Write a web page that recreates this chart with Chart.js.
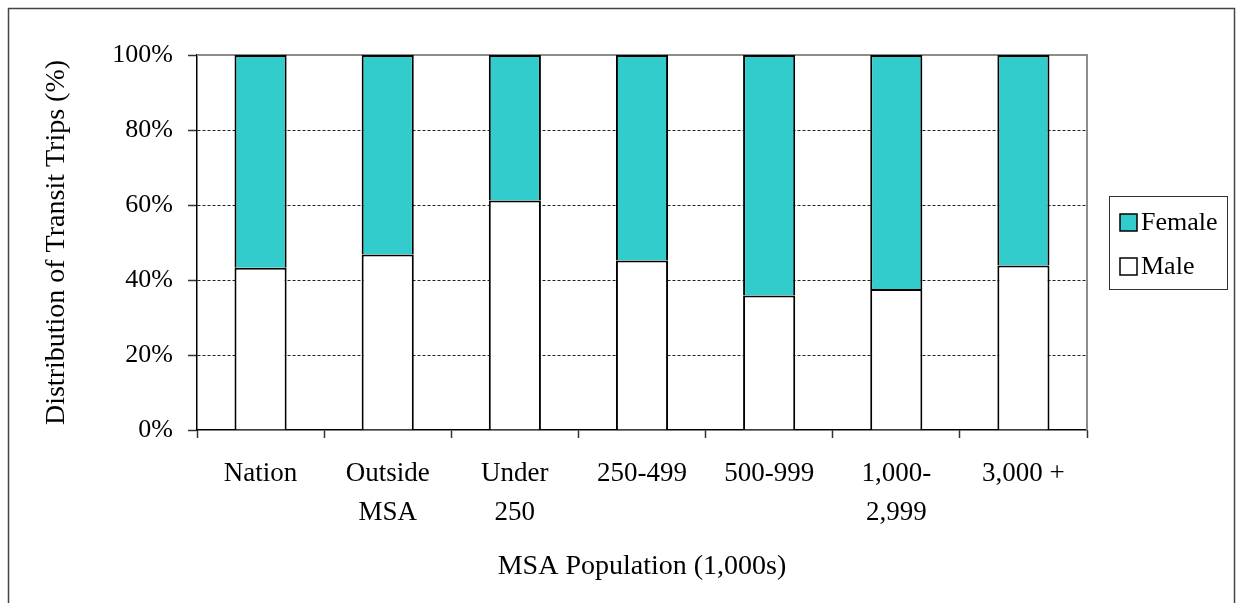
<!DOCTYPE html>
<html>
<head>
<meta charset="utf-8">
<title>Transit trips by gender and MSA size</title>
<script src="https://cdn.jsdelivr.net/npm/chart.js@4/dist/chart.umd.min.js"></script>
<style>
  html, body { margin: 0; padding: 0; background: #fff; }
  canvas { display: block; }
</style>
</head>
<body>
<canvas id="genderChart" width="1236" height="603"></canvas>
<script>
// categories (MSA population groups)
const categories = [
  'Nation',
  ['Outside', 'MSA'],
  ['Under', '250'],
  '250-499',
  '500-999',
  ['1,000-', '2,999'],
  '3,000 +'
];

// share of transit trips (%)
const maleShare   = [43.3, 46.8, 61.2, 45.2, 35.9, 37.6, 43.9];
const femaleShare = [56.7, 53.2, 38.8, 54.8, 64.1, 62.4, 56.1];

const yTicks = [0, 20, 40, 60, 80, 100];

const FONT = '"Liberation Serif", "Times New Roman", serif';
const TEAL = '#33CCCC';

// fond blanc + cadre extérieur
const framePlugin = {
  id: 'frame',
  beforeDraw(chart) {
    const ctx = chart.ctx;
    ctx.save();
    ctx.fillStyle = '#fff';
    ctx.fillRect(0, 0, chart.width, chart.height);
    ctx.strokeStyle = '#444';
    ctx.lineWidth = 1.5;
    ctx.strokeRect(8.5, 8.5, chart.width - 10, chart.height + 10);
    ctx.restore();
  },
  beforeDatasetsDraw(chart) {
    // bord gris haut + droite de la zone de tracé
    const { left, right, top, bottom } = chart.chartArea;
    const ctx = chart.ctx;
    ctx.save();
    ctx.strokeStyle = '#8c8c8c';
    ctx.lineWidth = 2;
    ctx.beginPath();
    ctx.moveTo(left, top);
    ctx.lineTo(right, top);
    ctx.lineTo(right, bottom);
    ctx.stroke();
    ctx.restore();
  }
};

// légende encadrée à droite (Female au-dessus de Male)
const boxLegend = {
  id: 'boxLegend',
  afterDraw(chart) {
    const ctx = chart.ctx;
    const items = chart.data.datasets.slice().reverse();
    ctx.save();
    ctx.strokeStyle = '#333';
    ctx.lineWidth = 1;
    ctx.strokeRect(1109.5, 196.5, 118, 93);
    ctx.font = '26px ' + FONT;
    ctx.textBaseline = 'middle';
    items.forEach((ds, i) => {
      const cy = 222 + i * 44;
      ctx.fillStyle = ds.backgroundColor;
      ctx.fillRect(1120, cy - 8, 17, 17);
      ctx.strokeStyle = '#000';
      ctx.lineWidth = 1.5;
      ctx.strokeRect(1120, cy - 8, 17, 17);
      ctx.fillStyle = '#000';
      ctx.fillText(ds.label, 1141, cy + 1);
    });
    ctx.restore();
  }
};

new Chart(document.getElementById('genderChart'), {
  type: 'bar',
  data: {
    labels: categories,
    datasets: [
      {
        label: 'Male',
        data: maleShare,
        backgroundColor: '#ffffff',
        borderColor: '#000',
        borderWidth: 2,
        categoryPercentage: 1,
        barPercentage: 0.41
      },
      {
        label: 'Female',
        data: femaleShare,
        backgroundColor: TEAL,
        borderColor: '#000',
        borderWidth: 2,
        categoryPercentage: 1,
        barPercentage: 0.41
      }
    ]
  },
  options: {
    responsive: false,
    animation: false,
    layout: { padding: { left: 0, right: 149, top: 55, bottom: 0 } },
    plugins: {
      legend: { display: false },
      tooltip: { enabled: false }
    },
    scales: {
      x: {
        stacked: true,
        afterFit: (s) => { s.height = 173; },
        border: { color: '#000', width: 1.5 },
        grid: {
          offset: true,
          drawOnChartArea: false,
          tickLength: 8,
          tickColor: '#333',
          tickWidth: 1.5
        },
        ticks: {
          color: '#000',
          padding: 16,
          maxRotation: 0,
          autoSkip: false,
          font: { family: FONT, size: 27, lineHeight: 1.45 }
        },
        title: {
          display: true,
          text: 'MSA Population (1,000s)',
          color: '#000',
          padding: { top: 0, bottom: 20 },
          font: { family: FONT, size: 28 }
        }
      },
      y: {
        stacked: true,
        min: 0,
        max: 100,
        afterFit: (s) => { s.width = 197; },
        afterBuildTicks: (s) => { s.ticks = yTicks.map(v => ({ value: v })); },
        // en v4, border.dash s'applique aux lignes de grille
        border: { color: '#000', width: 1.5, dash: [3, 2] },
        grid: {
          color: (c) => (c.tick && (c.tick.value === 0 || c.tick.value === 100)) ? 'rgba(0,0,0,0)' : '#222',
          lineWidth: 1,
          tickLength: 9,
          tickColor: '#333',
          tickWidth: 1.5,
          tickBorderDash: []
        },
        ticks: {
          color: '#000',
          padding: 15,
          callback: (v) => v + '%',
          font: { family: FONT, size: 26 }
        },
        title: {
          display: true,
          text: 'Distribution of Transit Trips (%)',
          color: '#000',
          padding: { top: 40, bottom: 0 },
          font: { family: FONT, size: 28 }
        }
      }
    }
  },
  plugins: [framePlugin, boxLegend]
});
</script>
</body>
</html>
